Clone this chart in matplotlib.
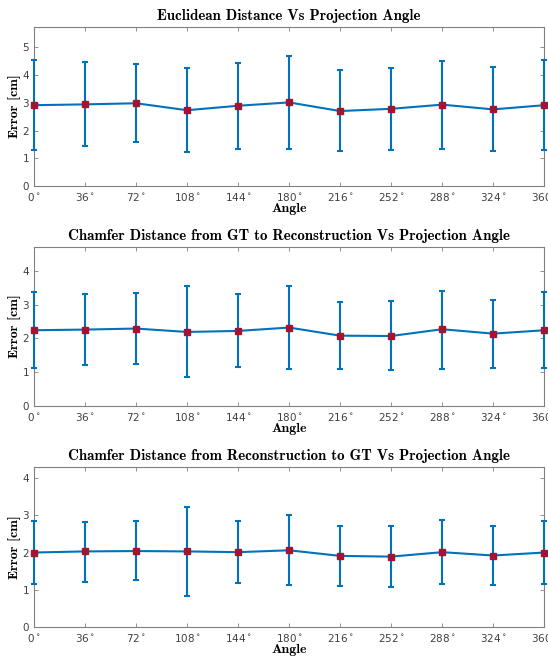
import matplotlib
matplotlib.use('Agg')
import matplotlib.pyplot as plt
import numpy as np

plt.rcParams['font.family'] = 'DejaVu Sans'
plt.rcParams['mathtext.fontset'] = 'dejavusans'
plt.rcParams['axes.linewidth'] = 0.8

# data
angles = [0, 36, 72, 108, 144, 180, 216, 252, 288, 324, 360]

eucl_mean = [2.91, 2.94, 2.98, 2.73, 2.89, 3.01, 2.70, 2.78, 2.93, 2.76, 2.91]
eucl_low = [1.29, 1.44, 1.58, 1.22, 1.35, 1.35, 1.26, 1.30, 1.34, 1.26, 1.29]
eucl_high = [4.52, 4.46, 4.38, 4.25, 4.44, 4.69, 4.16, 4.26, 4.51, 4.27, 4.52]

gt2rec_mean = [2.24, 2.26, 2.29, 2.19, 2.22, 2.32, 2.08, 2.07, 2.27, 2.14, 2.24]
gt2rec_low = [1.11, 1.21, 1.25, 0.86, 1.14, 1.10, 1.09, 1.05, 1.10, 1.13, 1.11]
gt2rec_high = [3.37, 3.31, 3.34, 3.55, 3.31, 3.55, 3.07, 3.10, 3.40, 3.14, 3.37]

rec2gt_mean = [2.00, 2.03, 2.04, 2.03, 2.01, 2.06, 1.91, 1.89, 2.01, 1.92, 2.00]
rec2gt_low = [1.15, 1.22, 1.26, 0.84, 1.18, 1.12, 1.11, 1.08, 1.15, 1.13, 1.15]
rec2gt_high = [2.85, 2.83, 2.84, 3.21, 2.85, 3.02, 2.71, 2.71, 2.88, 2.71, 2.85]

titles = ['Euclidean Distance Vs Projection Angle',
          'Chamfer Distance from GT to Reconstruction Vs Projection Angle',
          'Chamfer Distance from Reconstruction to GT Vs Projection Angle']
ytops = [5.72, 4.71, 4.29]

panels = [(eucl_mean, eucl_low, eucl_high),
          (gt2rec_mean, gt2rec_low, gt2rec_high),
          (rec2gt_mean, rec2gt_low, rec2gt_high)]

# axes boxes in figure fractions [left, bottom, width, height]
boxes = [[0.062, 0.717, 0.931, 0.242],
         [0.062, 0.383, 0.931, 0.242],
         [0.062, 0.047, 0.931, 0.243]]

blue = '#0072BD'
red = '#A2142F'
gray = '#404040'
serif = 'cmb10'

fig = plt.figure(figsize=(5.48, 6.58), dpi=100)

for box, (mean, low, high), title, ytop in zip(boxes, panels, titles, ytops):
    ax = fig.add_axes(box)
    mean = np.array(mean)
    err = [mean - np.array(low), np.array(high) - mean]
    ax.errorbar(angles, mean, yerr=err, color=blue, linewidth=1.5,
                elinewidth=1.5, capsize=2.5, capthick=1.5, clip_on=False, zorder=3)
    ax.plot(angles, mean, 's', color=red, markersize=4.5, clip_on=False, zorder=4)

    ax.set_xlim(0, 360)
    ax.set_ylim(0, ytop)
    ax.set_xticks(angles)
    ax.set_xticklabels([f'${a}^\\circ$' for a in angles])
    ax.set_yticks(np.arange(0, int(ytop) + 1))

    ax.tick_params(direction='in', top=True, right=True, length=3,
                   width=0.6, colors='#808080', labelcolor=gray, labelsize=7.5)
    for sp in ax.spines.values():
        sp.set_color('#808080')

    ax.set_title(title, fontsize=10.8, family=serif, pad=5)
    ax.set_xlabel('Angle', fontsize=10, family=serif, labelpad=0)
    ax.set_ylabel('Error [cm]', fontsize=10, family=serif, labelpad=1)

fig.savefig('out.png', dpi=100)
